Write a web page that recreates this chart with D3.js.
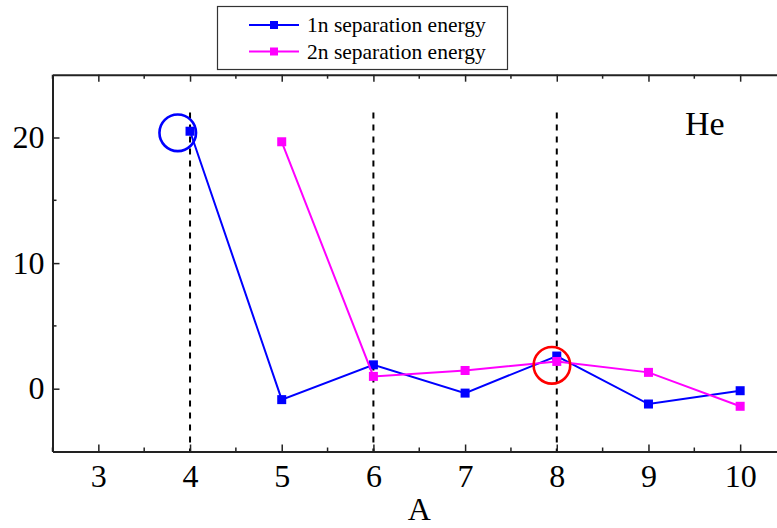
<!DOCTYPE html>
<html>
<head>
<meta charset="utf-8">
<script src="https://cdn.jsdelivr.net/npm/d3@7"></script>
<style>
  html, body { margin: 0; padding: 0; background: #fff; }
  svg { display: block; }
</style>
</head>
<body>
<svg id="chart" width="777" height="528"></svg>
<script>
// ---- data ----
const massNumbers1n = [4, 5, 6, 7, 8, 9, 10];
const sep1n = [20.5, -0.87, 1.9, -0.35, 2.6, -1.22, -0.16];
const massNumbers2n = [5, 6, 7, 8, 9, 10];
const sep2n = [19.66, 0.98, 1.45, 2.17, 1.3, -1.4];
const seriesNames = ["1n separation energy", "2n separation energy"];
const xTickValues = [3, 4, 5, 6, 7, 8, 9, 10];
const yTickValues = [0, 10, 20];
const dashedA = [4, 6, 8];
const dashedRange = [22, -5];
const circleA = [3.866, 7.947];
const circleE = [20.37, 1.86];
const elementLabel = "He";
const xTitle = "A";

// ---- layout ----
const FONT = '"Liberation Serif", "Times New Roman", "DejaVu Serif", serif';
const svg = d3.select("#chart");
const pL = 52.5, pT = 74.7, pR = 786, pB = 451.5;
const x = d3.scaleLinear().domain([2.5, 10.5]).range([pL, pR]);
const y = d3.scaleLinear().domain([-5, 25]).range([pB, pT]);
const blue = "#0000FF", magenta = "#FF00FF", axisColor = "#222";

// dashed reference lines
svg.append("g").selectAll("line").data(dashedA).join("line")
  .attr("x1", d => x(d)).attr("x2", d => x(d))
  .attr("y1", y(dashedRange[0])).attr("y2", y(dashedRange[1]))
  .attr("stroke", "#000").attr("stroke-width", 2)
  .attr("stroke-dasharray", "6,6");

// series
const s1 = massNumbers1n.map((a, i) => [a, sep1n[i]]);
const s2 = massNumbers2n.map((a, i) => [a, sep2n[i]]);
const line = d3.line().x(d => x(d[0])).y(d => y(d[1]));
function drawSeries(data, color) {
  svg.append("path").datum(data).attr("d", line)
    .attr("fill", "none").attr("stroke", color).attr("stroke-width", 2);
  svg.append("g").selectAll("rect").data(data).join("rect")
    .attr("x", d => x(d[0]) - 4.5).attr("y", d => y(d[1]) - 4.5)
    .attr("width", 9).attr("height", 9).attr("fill", color);
}
drawSeries(s1, blue);
drawSeries(s2, magenta);

// annotation circles
svg.append("g").selectAll("circle").data(circleA).join("circle")
  .attr("cx", d => x(d)).attr("cy", (d, i) => y(circleE[i]))
  .attr("r", 18.3).attr("fill", "none")
  .attr("stroke", (d, i) => i === 0 ? blue : "#FF0000")
  .attr("stroke-width", 2.6);

// axes
const fontSize = 32;
const minorX = d3.range(2.5, 10.51, 1);
const minorY = [5, 15];

const xAxis = svg.append("g").attr("transform", `translate(0,${pB})`)
  .call(d3.axisBottom(x).tickValues(xTickValues).tickSize(-7).tickPadding(13).tickSizeOuter(0));
const xTop = svg.append("g").attr("transform", `translate(0,${pT})`)
  .call(d3.axisTop(x).tickValues(xTickValues).tickSize(-7).tickFormat("").tickSizeOuter(0));
const yAxis = svg.append("g").attr("transform", `translate(${pL},0)`)
  .call(d3.axisLeft(y).tickValues(yTickValues).tickSize(-7).tickPadding(8).tickSizeOuter(0));

[xAxis, xTop, yAxis].forEach(g => {
  g.attr("font-family", FONT).attr("font-size", fontSize);
  g.select(".domain").attr("stroke", axisColor).attr("stroke-width", 2);
  g.selectAll(".tick line").attr("stroke", axisColor).attr("stroke-width", 1.5);
  g.selectAll(".tick text").attr("fill", "#000")
    .attr("font-family", FONT).attr("font-size", fontSize);
});

// minor ticks
svg.append("g").selectAll("line").data(minorX).join("line")
  .attr("x1", d => x(d)).attr("x2", d => x(d))
  .attr("y1", pB).attr("y2", pB - 4)
  .attr("stroke", axisColor).attr("stroke-width", 1.5);
svg.append("g").selectAll("line").data(minorX).join("line")
  .attr("x1", d => x(d)).attr("x2", d => x(d))
  .attr("y1", pT).attr("y2", pT + 4)
  .attr("stroke", axisColor).attr("stroke-width", 1.5);
svg.append("g").selectAll("line").data(minorY).join("line")
  .attr("x1", pL).attr("x2", pL + 4)
  .attr("y1", d => y(d)).attr("y2", d => y(d))
  .attr("stroke", axisColor).attr("stroke-width", 1.5);

// axis title
svg.append("text").attr("x", (pL + pR) / 2).attr("y", 520)
  .attr("text-anchor", "middle").attr("font-family", FONT).attr("font-size", 32).text(xTitle);

// element label
svg.append("text").attr("x", 685).attr("y", 135)
  .attr("font-family", FONT).attr("font-size", 34).text(elementLabel);

// legend
const lg = svg.append("g");
lg.append("rect").attr("x", 217.5).attr("y", 6.5).attr("width", 290).attr("height", 63)
  .attr("fill", "#fff").attr("stroke", "#333").attr("stroke-width", 1.2);
const legendColors = [blue, magenta];
seriesNames.forEach((name, i) => {
  const cy = 25 + i * 26.5;
  lg.append("line").attr("x1", 249).attr("x2", 299).attr("y1", cy).attr("y2", cy)
    .attr("stroke", legendColors[i]).attr("stroke-width", 2);
  lg.append("rect").attr("x", 274 - 4).attr("y", cy - 4).attr("width", 8).attr("height", 8)
    .attr("fill", legendColors[i]);
  lg.append("text").attr("x", 307).attr("y", cy + 7)
    .attr("font-family", FONT).attr("font-size", 21.5).text(name);
});
</script>
</body>
</html>
